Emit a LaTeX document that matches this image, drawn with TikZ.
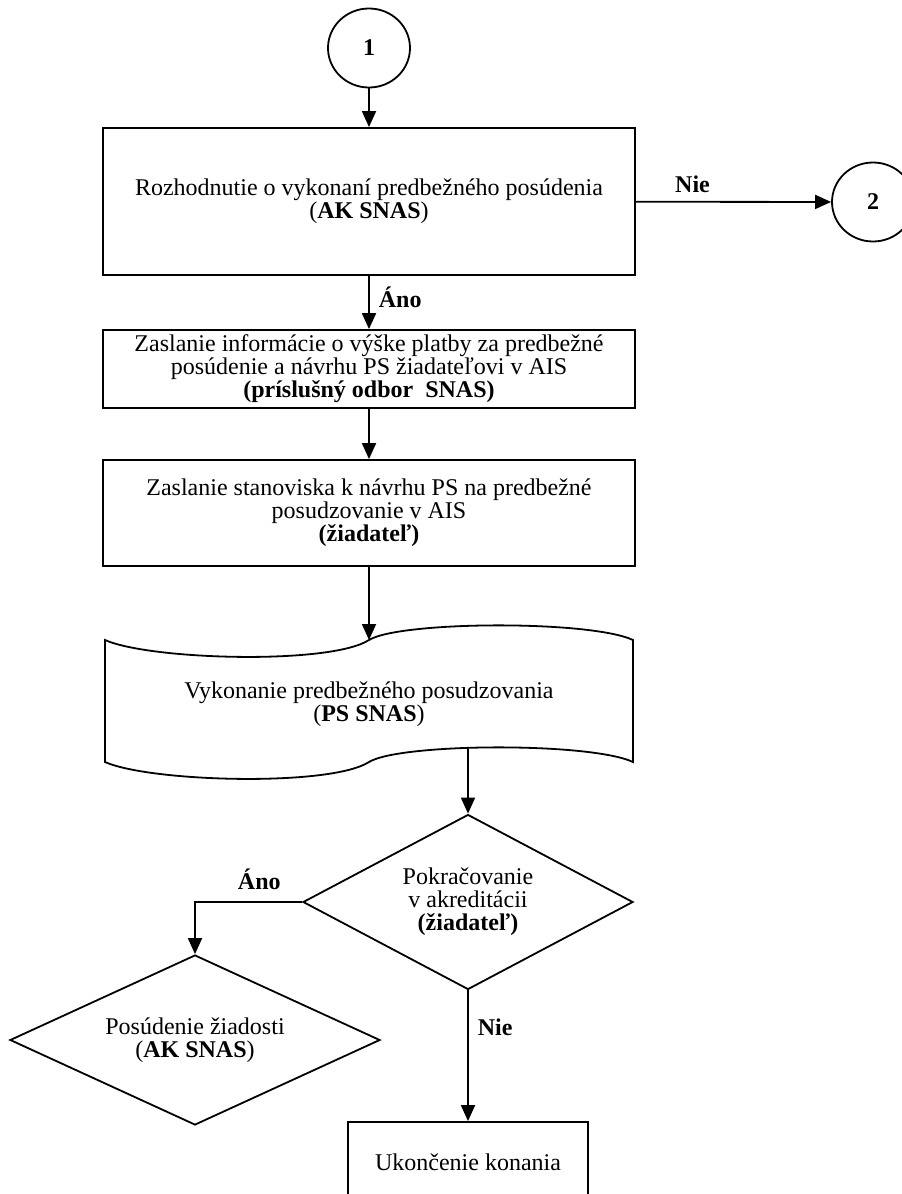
\documentclass[tikz,border=0pt]{standalone}
\usepackage{fontspec}
\setmainfont{Liberation Serif}
\usepackage{tikz}
\usetikzlibrary{shapes.geometric,arrows.meta}
\tikzset{>=stealth}
\tikzset{
    txt/.style={font=\fontsize{24}{23}\selectfont},
    procbox/.style={txt, draw, line width=1.8pt, rectangle, align=center,
        minimum width=532pt, inner sep=0pt},
    decide/.style={txt, draw, line width=1.8pt, diamond, align=center, inner sep=0pt},
    conn/.style={txt, draw, line width=1.8pt, ellipse, font=\fontsize{24}{23}\selectfont\bfseries,
        minimum width=82pt, minimum height=79pt, inner sep=0pt},
    flow/.style={line width=1.8pt, -{Triangle[length=16pt,width=14pt]}},
    lbl/.style={txt, font=\fontsize{24}{23}\selectfont\bfseries, inner sep=3pt},
}

\begin{document}
\begin{tikzpicture}[x=1pt,y=-1pt]
    \useasboundingbox (0,0) rectangle (902,1194);

    \node[conn] (start) at (369,48) {1};
    \node[procbox, minimum height=147pt] (decision) at (369,201.5)
        {Rozhodnutie o vykonaní predbežného posúdenia\\(\textbf{AK SNAS})};
    \node[conn] (exit) at (873,202) {2};
    \node[procbox, minimum height=78pt] (payment) at (369,369)
        {Zaslanie informácie o výške platby za predbežné\\posúdenie a návrhu PS žiadateľovi v AIS\\\textbf{(príslušný odbor \ SNAS)}};
    \node[procbox, minimum height=106pt] (opinion) at (369,513)
        {Zaslanie stanoviska k návrhu PS na predbežné\\posudzovanie v AIS\\\textbf{(žiadateľ)}};

    % punched tape
    \coordinate (tapein) at (369,640);
    \coordinate (tapeout) at (468,749);
    \draw[line width=1.8pt] (105,640) .. controls (150,660) and (330,665) .. (369,640)
        .. controls (400,621) and (590,620) .. (633,640) -- (633,762)
        .. controls (590,742) and (400,743) .. (369,762)
        .. controls (330,787) and (150,782) .. (105,762) -- cycle;
    \node[txt, align=center] (review) at (369,704)
        {Vykonanie predbežného posudzovania\\(\textbf{PS SNAS})};

    \node[decide, aspect=1.886, minimum width=330pt, minimum height=175pt] (proceed) at (468,902)
        {Pokračovanie\\v akreditácii\\\textbf{(žiadateľ)}};
    \node[decide, aspect=2.18, minimum width=370pt, minimum height=170pt] (assess) at (195,1040)
        {Posúdenie žiadosti\\(\textbf{AK SNAS})};
    \node[procbox, minimum width=240pt, minimum height=80pt] (stop) at (468,1162)
        {Ukončenie konania};

    \draw[flow] (start) -- (decision);
    \draw[flow] (decision) -- node[lbl, above=5pt, pos=0.29] {Nie} (exit);
    \draw[flow] (decision) -- node[lbl, right=6pt, pos=0.4] {Áno} (payment);
    \draw[flow] (payment) -- (opinion);
    \draw[flow] (opinion) -- (tapein);
    \draw[flow] (tapeout) -- (proceed.north);
    \draw[flow] (proceed.west) -| node[lbl, above=8pt, pos=0.2] {Áno} (assess.north);
    \draw[flow] (proceed.south) -- node[lbl, right=6pt, pos=0.28] {Nie} (stop.north);
\end{tikzpicture}
\end{document}
